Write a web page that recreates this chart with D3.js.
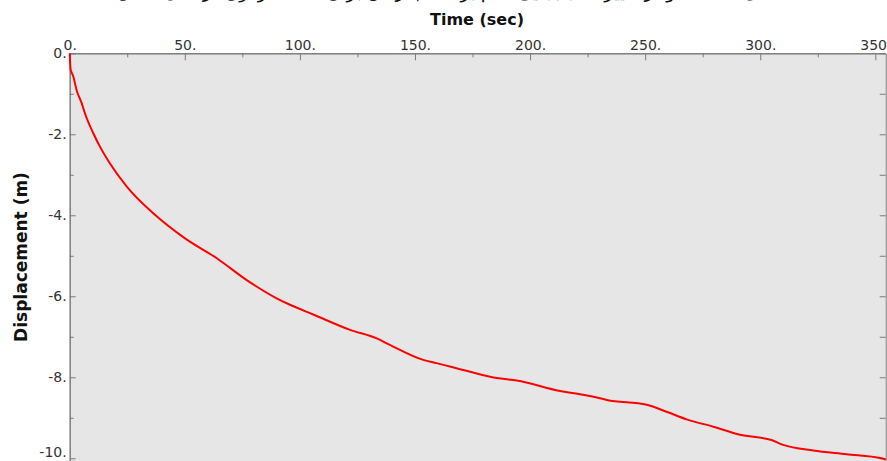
<!DOCTYPE html>
<html>
<head>
<meta charset="utf-8">
<script src="https://cdn.jsdelivr.net/npm/d3@7"></script>
<style>
  body { margin: 0; background: #fff; }
  .tick text { font-family: "DejaVu Sans", Verdana, sans-serif; font-size: 14px; fill: #333; }
  .axis path, .axis line { stroke: #7a7a7a; }
  .title { font-family: "DejaVu Sans", sans-serif; font-weight: bold; fill: #111; }
</style>
</head>
<body>
<div id="viz"></div>
<script>

// displacement curve
var timeSec = [0, 0.4, 1.5, 3.0, 5.2, 6.6, 10.3, 13.2, 17.5, 24.8, 36.3, 50.1, 63.9, 76.9, 89.9, 95.7,
	105.8, 121.8, 133.4, 139.1, 153.6, 159.4, 171, 185.5, 194.2, 213, 221.7, 230.4, 233.3, 250.7,
	259.3, 268, 279.6, 291.2, 304.9, 310, 323, 337.5, 352.7, 354.5];
var dispM = [0, -0.4, -0.56, -0.91, -1.23, -1.48, -1.98, -2.31, -2.72, -3.29, -3.95, -4.57, -5.06, -5.6, -6.05, -6.21,
	-6.45, -6.83, -7.04, -7.2, -7.57, -7.65, -7.82, -8.02, -8.08, -8.34, -8.42, -8.52, -8.56, -8.68,
	-8.85, -9.04, -9.22, -9.42, -9.55, -9.67, -9.81, -9.9, -10.0, -10.03];

var xMajor = [0, 50, 100, 150, 200, 250, 300, 350];
var xMinor = [25, 75, 125, 175, 225, 275, 325];
var yMajor = [0, -2, -4, -6, -8, -10];
var yMinor = [-1, -3, -5, -7, -9];

var width = 887;
var height = 461;

var svg = d3.select("#viz")
	.append("svg")
	.attr("width", width)
	.attr("height", height);

var x = d3.scaleLinear().domain([0, 354.5]).range([69.7, 885.7]);
var y = d3.scaleLinear().domain([0, -10.07]).range([53.3, 461.1]);

// plot background
svg.append("rect")
	.attr("x", x(0))
	.attr("y", y(0))
	.attr("width", x(354.5) - x(0))
	.attr("height", y(-10.07) - y(0))
	.attr("fill", "#e6e6e6");

var fmt = d => d + ".";

// top axis
svg.append("g").attr("class", "axis")
	.attr("transform", "translate(0," + y(0) + ")")
	.call(d3.axisTop(x).tickValues(xMinor).tickSize(-4).tickSizeOuter(0).tickFormat(""));
svg.append("g").attr("class", "axis")
	.attr("transform", "translate(0," + y(0) + ")")
	.call(d3.axisTop(x).tickValues(xMajor).tickSize(-7).tickSizeOuter(0).tickPadding(3).tickFormat(fmt));

// left axis
svg.append("g").attr("class", "axis")
	.attr("transform", "translate(" + x(0) + ",0)")
	.call(d3.axisLeft(y).tickValues(yMinor).tickSize(-4).tickSizeOuter(0).tickFormat(""));
var yAxisG = svg.append("g").attr("class", "axis")
	.attr("transform", "translate(" + x(0) + ",0)")
	.call(d3.axisLeft(y).tickValues(yMajor).tickSize(-6).tickSizeOuter(0).tickPadding(3).tickFormat(fmt));

// last label sits a little above its tick, at the bottom edge
yAxisG.selectAll(".tick text")
	.filter(d => d == -10)
	.attr("dy", "-0.1em");

// right axis, ticks only
svg.append("g").attr("class", "axis")
	.attr("transform", "translate(" + x(354.5) + ",0)")
	.call(d3.axisRight(y).tickValues(yMinor.concat(yMajor)).tickSize(-6).tickSizeOuter(0).tickFormat(""))
	.select("path").attr("stroke", "#b0b0b0");

// curve
var pts = timeSec.map((t, i) => [t, dispM[i]]);
var line = d3.line()
	.x(d => x(d[0]))
	.y(d => y(d[1]))
	.curve(d3.curveMonotoneX);

svg.append("path")
	.datum(pts)
	.attr("d", line)
	.attr("fill", "none")
	.attr("stroke", "#ff0000")
	.attr("stroke-width", 2);

// titles
svg.append("text")
	.attr("class", "title")
	.attr("x", 477)
	.attr("y", 25)
	.attr("text-anchor", "middle")
	.style("font-size", "16px")
	.text("Time (sec)");

svg.append("text")
	.attr("class", "title")
	.attr("transform", "translate(27,257) rotate(-90)")
	.attr("text-anchor", "middle")
	.style("font-size", "17px")
	.text("Displacement (m)");

// caption above, cropped by the picture edge
svg.append("text")
	.attr("x", 450)
	.attr("y", -2)
	.attr("text-anchor", "middle")
	.attr("direction", "rtl")
	.style("font-family", "DejaVu Sans, sans-serif")
	.style("font-size", "18px")
	.attr("fill", "#111")
	.text("شکل ۴-۱۲- نمودار تغییرات جابجایی قائم بر حسب زمان برای نقطه مرکزی در مدل عددی");

</script>
</body>
</html>
